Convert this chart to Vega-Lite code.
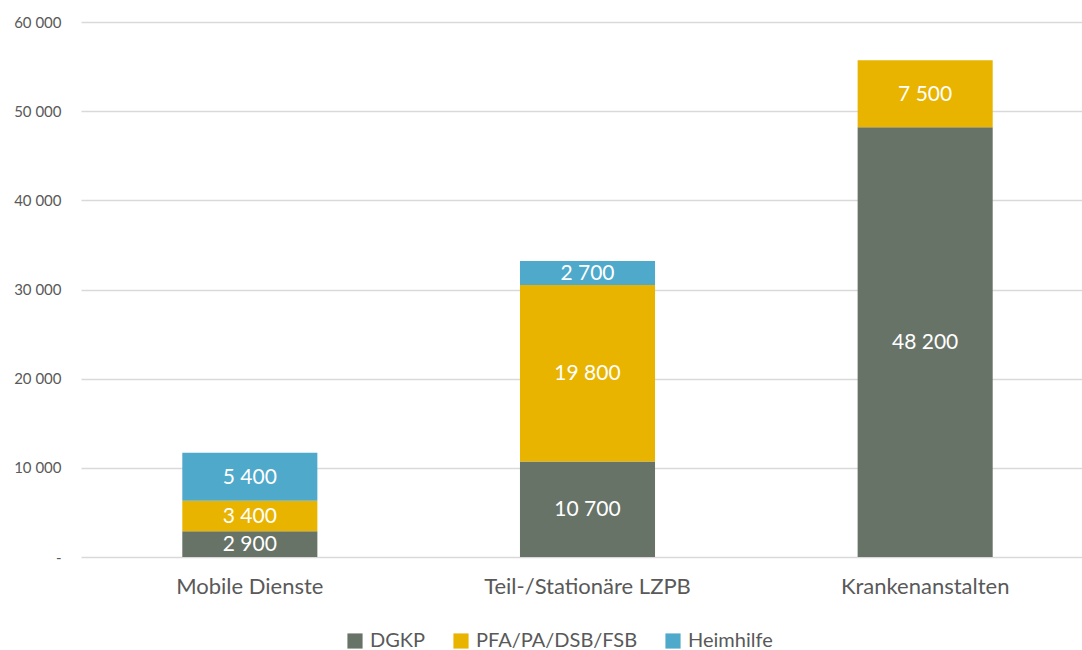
{
  "$schema": "https://vega.github.io/schema/vega-lite/v6.json",
  "width": 1013,
  "height": 535,
  "autosize": {"type": "none"},
  "padding": {"left": 81, "top": 22, "right": 0, "bottom": 93},
  "background": "white",
  "config": {
    "view": {"stroke": null},
    "font": "Lato",
    "locale": {"number": {"decimal": ",", "thousands": " ", "grouping": [3], "currency": ["", " €"]}}
  },
  "data": {
    "values": [
      {"bereich": "Mobile Dienste", "gruppe": "DGKP", "ord": 1, "wert": 2900},
      {"bereich": "Mobile Dienste", "gruppe": "PFA/PA/DSB/FSB", "ord": 2, "wert": 3400},
      {"bereich": "Mobile Dienste", "gruppe": "Heimhilfe", "ord": 3, "wert": 5400},
      {"bereich": "Teil-/Stationäre LZPB", "gruppe": "DGKP", "ord": 1, "wert": 10700},
      {"bereich": "Teil-/Stationäre LZPB", "gruppe": "PFA/PA/DSB/FSB", "ord": 2, "wert": 19800},
      {"bereich": "Teil-/Stationäre LZPB", "gruppe": "Heimhilfe", "ord": 3, "wert": 2700},
      {"bereich": "Krankenanstalten", "gruppe": "DGKP", "ord": 1, "wert": 48200},
      {"bereich": "Krankenanstalten", "gruppe": "PFA/PA/DSB/FSB", "ord": 2, "wert": 7500}
    ]
  },
  "encoding": {
    "x": {
      "field": "bereich", "type": "nominal", "sort": null,
      "scale": {"paddingInner": 0.6, "paddingOuter": 0.3},
      "axis": {"title": null, "labelAngle": 0, "domain": false, "ticks": false, "labelFontSize": 22, "labelColor": "#595959", "labelPadding": 19, "labelFont": "Lato", "labelLimit": 400}
    },
    "y": {
      "field": "wert", "type": "quantitative", "stack": "zero",
      "scale": {"domain": [0, 60000], "nice": false},
      "axis": {"title": null, "values": [0, 10000, 20000, 30000, 40000, 50000, 60000], "labelExpr": "datum.value == 0 ? '-' : format(datum.value, ',d')", "domain": false, "ticks": false, "labelPadding": 20, "labelFontSize": 15, "labelColor": "#595959", "gridColor": "#d9d9d9", "gridWidth": 1.5}
    },
    "order": {"field": "ord", "type": "quantitative"}
  },
  "layer": [
    {
      "mark": {"type": "bar"},
      "encoding": {
        "color": {
          "field": "gruppe", "type": "nominal",
          "scale": {"domain": ["DGKP", "PFA/PA/DSB/FSB", "Heimhilfe"], "range": ["#687368", "#E8B400", "#4FA9CB"]},
          "legend": {"title": null, "orient": "none", "legendX": 264, "legendY": 609, "direction": "horizontal", "symbolType": "square", "symbolSize": 230, "symbolStrokeWidth": 0, "labelFontSize": 20, "labelColor": "#595959", "labelOffset": 5, "columnPadding": 25, "labelFont": "Lato", "labelLimit": 400}
        }
      }
    },
    {
      "mark": {"type": "text", "color": "white", "fontSize": 21, "font": "Lato", "dy": 1},
      "encoding": {
        "y": {"field": "wert", "type": "quantitative", "stack": "zero", "bandPosition": 0.5},
        "text": {"field": "wert", "type": "quantitative", "format": ",d"}
      }
    }
  ]
}
